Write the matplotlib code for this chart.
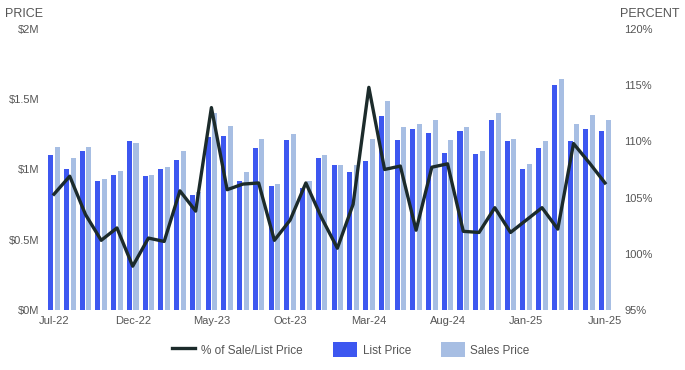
import numpy as np
import matplotlib
matplotlib.use("Agg")
import matplotlib.pyplot as plt
from matplotlib.lines import Line2D
from matplotlib.patches import Patch

plt.rcParams["font.family"] = ["Liberation Sans", "DejaVu Sans"]

# ---- data ----
months = [
    "Jul-22", "Aug-22", "Sep-22", "Oct-22", "Nov-22", "Dec-22",
    "Jan-23", "Feb-23", "Mar-23", "Apr-23", "May-23", "Jun-23",
    "Jul-23", "Aug-23", "Sep-23", "Oct-23", "Nov-23", "Dec-23",
    "Jan-24", "Feb-24", "Mar-24", "Apr-24", "May-24", "Jun-24",
    "Jul-24", "Aug-24", "Sep-24", "Oct-24", "Nov-24", "Dec-24",
    "Jan-25", "Feb-25", "Mar-25", "Apr-25", "May-25", "Jun-25",
]
list_price = [
    1.10, 1.00, 1.13, 0.92, 0.96, 1.20,
    0.95, 1.00, 1.07, 0.82, 1.23, 1.24,
    0.92, 1.15, 0.88, 1.21, 0.87, 1.08,
    1.03, 0.98, 1.06, 1.38, 1.21, 1.29,
    1.26, 1.12, 1.27, 1.11, 1.35, 1.20,
    1.00, 1.15, 1.60, 1.20, 1.29, 1.27,
]  # $M
sales_price = [
    1.16, 1.08, 1.16, 0.93, 0.99, 1.19,
    0.96, 1.02, 1.13, 0.84, 1.40, 1.31,
    0.98, 1.22, 0.90, 1.25, 0.92, 1.10,
    1.03, 1.03, 1.22, 1.49, 1.30, 1.32,
    1.35, 1.21, 1.30, 1.13, 1.40, 1.22,
    1.04, 1.20, 1.64, 1.32, 1.39, 1.35,
]  # $M
sale_list_pct = [
    105.3, 106.9, 103.5, 101.2, 102.3, 98.9,
    101.4, 101.1, 105.6, 103.8, 113.0, 105.7,
    106.2, 106.3, 101.2, 103.0, 106.3, 103.2,
    100.5, 104.4, 114.8, 107.5, 107.8, 102.1,
    107.7, 108.0, 102.0, 101.9, 104.1, 101.9,
    103.0, 104.1, 102.2, 109.8, 108.1, 106.3,
]
price_ticks = [0, 0.5, 1.0, 1.5, 2.0]
price_labels = ["$0M", "$0.5M", "$1M", "$1.5M", "$2M"]
pct_ticks = [95, 100, 105, 110, 115, 120]

LIST_COLOR = "#3d57f0"
SALES_COLOR = "#a7bee3"
LINE_COLOR = "#1c2b2b"
TEXT_COLOR = "#555555"

x = np.arange(len(months))

fig = plt.figure(figsize=(6.85, 3.70), dpi=100)
ax = fig.add_axes([0.065, 0.162, 0.832, 0.760])

ax.bar(x - 0.21, list_price, width=0.32, color=LIST_COLOR, zorder=2)
ax.bar(x + 0.21, sales_price, width=0.32, color=SALES_COLOR, zorder=2)
ax.set_ylim(0, 2.0)
ax.set_xlim(-0.6, len(months) - 0.4)
ax.set_yticks(price_ticks)
ax.set_yticklabels(price_labels)
ax.set_xticks(x[::5])
ax.set_xticklabels(months[::5])

ax2 = ax.twinx()
ax2.plot(x, sale_list_pct, color=LINE_COLOR, linewidth=2.4, zorder=3)
ax2.set_ylim(95, 120)
ax2.set_yticks(pct_ticks)
ax2.set_yticklabels([f"{t}%" for t in pct_ticks])

for a in (ax, ax2):
    for s in a.spines.values():
        s.set_visible(False)
    a.tick_params(length=0, labelsize=8, colors=TEXT_COLOR)
ax.tick_params(axis="y", pad=4)
ax.tick_params(axis="x", pad=4)
ax2.tick_params(axis="y", pad=7)

fig.text(0.007, 0.962, "PRICE", fontsize=9, color=TEXT_COLOR, va="center")
fig.text(0.905, 0.962, "PERCENT", fontsize=9, color=TEXT_COLOR, va="center")

handles = [
    Line2D([0], [0], color=LINE_COLOR, linewidth=2.4),
    Patch(facecolor=LIST_COLOR),
    Patch(facecolor=SALES_COLOR),
]
fig.legend(handles, ["% of Sale/List Price", "List Price", "Sales Price"],
           loc="center", bbox_to_anchor=(0.512, 0.055), ncol=3, frameon=False,
           fontsize=8.5, labelcolor=TEXT_COLOR, handlelength=2.0,
           handleheight=1.6, columnspacing=2.55, handletextpad=0.5)

fig.savefig("out.png", dpi=100)
